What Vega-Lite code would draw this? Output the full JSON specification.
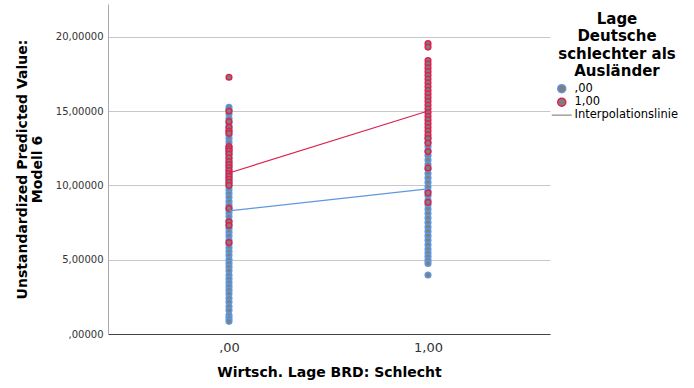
{
  "$schema": "https://vega.github.io/schema/vega-lite/v6.json",
  "autosize": {"type": "none"},
  "padding": {"left": 108, "top": 4, "right": 144, "bottom": 54},
  "width": 442,
  "height": 330,
  "background": "white",
  "config": {
    "view": {"stroke": null},
    "font": "DejaVu Sans",
    "axis": {"ticks": false, "labelColor": "#333333", "titleColor": "#000000"}
  },
  "datasets": {
    "pts": [
      {"x": 0, "grp": ",00", "y": 15.25}, {"x": 0, "grp": ",00", "y": 15.05}, {"x": 0, "grp": ",00", "y": 14.8}, {"x": 0, "grp": ",00", "y": 14.5},
      {"x": 0, "grp": ",00", "y": 14.2}, {"x": 0, "grp": ",00", "y": 13.95}, {"x": 0, "grp": ",00", "y": 13.7}, {"x": 0, "grp": ",00", "y": 13.4},
      {"x": 0, "grp": ",00", "y": 13.15}, {"x": 0, "grp": ",00", "y": 12.9}, {"x": 0, "grp": ",00", "y": 12.6}, {"x": 0, "grp": ",00", "y": 12.35},
      {"x": 0, "grp": ",00", "y": 12.1}, {"x": 0, "grp": ",00", "y": 11.8}, {"x": 0, "grp": ",00", "y": 11.55}, {"x": 0, "grp": ",00", "y": 11.3},
      {"x": 0, "grp": ",00", "y": 11.0}, {"x": 0, "grp": ",00", "y": 10.75}, {"x": 0, "grp": ",00", "y": 10.5}, {"x": 0, "grp": ",00", "y": 10.2},
      {"x": 0, "grp": ",00", "y": 9.95}, {"x": 0, "grp": ",00", "y": 9.7}, {"x": 0, "grp": ",00", "y": 9.45}, {"x": 0, "grp": ",00", "y": 9.2},
      {"x": 0, "grp": ",00", "y": 8.9}, {"x": 0, "grp": ",00", "y": 8.65}, {"x": 0, "grp": ",00", "y": 8.4}, {"x": 0, "grp": ",00", "y": 8.15},
      {"x": 0, "grp": ",00", "y": 7.9}, {"x": 0, "grp": ",00", "y": 7.6}, {"x": 0, "grp": ",00", "y": 7.35}, {"x": 0, "grp": ",00", "y": 7.1},
      {"x": 0, "grp": ",00", "y": 6.85}, {"x": 0, "grp": ",00", "y": 6.6}, {"x": 0, "grp": ",00", "y": 6.3}, {"x": 0, "grp": ",00", "y": 6.05},
      {"x": 0, "grp": ",00", "y": 5.8}, {"x": 0, "grp": ",00", "y": 5.55}, {"x": 0, "grp": ",00", "y": 5.3}, {"x": 0, "grp": ",00", "y": 5.0},
      {"x": 0, "grp": ",00", "y": 4.75}, {"x": 0, "grp": ",00", "y": 4.5}, {"x": 0, "grp": ",00", "y": 4.25}, {"x": 0, "grp": ",00", "y": 3.95},
      {"x": 0, "grp": ",00", "y": 3.7}, {"x": 0, "grp": ",00", "y": 3.45}, {"x": 0, "grp": ",00", "y": 3.2}, {"x": 0, "grp": ",00", "y": 2.95},
      {"x": 0, "grp": ",00", "y": 2.7}, {"x": 0, "grp": ",00", "y": 2.4}, {"x": 0, "grp": ",00", "y": 2.15}, {"x": 0, "grp": ",00", "y": 1.85},
      {"x": 0, "grp": ",00", "y": 1.6}, {"x": 0, "grp": ",00", "y": 1.25}, {"x": 0, "grp": ",00", "y": 1.05}, {"x": 0, "grp": ",00", "y": 0.85},
      {"x": 1, "grp": ",00", "y": 13.2}, {"x": 1, "grp": ",00", "y": 12.9}, {"x": 1, "grp": ",00", "y": 12.6}, {"x": 1, "grp": ",00", "y": 12.3},
      {"x": 1, "grp": ",00", "y": 12.0}, {"x": 1, "grp": ",00", "y": 11.7}, {"x": 1, "grp": ",00", "y": 11.4}, {"x": 1, "grp": ",00", "y": 11.1},
      {"x": 1, "grp": ",00", "y": 10.8}, {"x": 1, "grp": ",00", "y": 10.5}, {"x": 1, "grp": ",00", "y": 10.2}, {"x": 1, "grp": ",00", "y": 9.9},
      {"x": 1, "grp": ",00", "y": 9.6}, {"x": 1, "grp": ",00", "y": 9.3}, {"x": 1, "grp": ",00", "y": 9.0}, {"x": 1, "grp": ",00", "y": 8.7},
      {"x": 1, "grp": ",00", "y": 8.4}, {"x": 1, "grp": ",00", "y": 8.1}, {"x": 1, "grp": ",00", "y": 7.8}, {"x": 1, "grp": ",00", "y": 7.5},
      {"x": 1, "grp": ",00", "y": 7.2}, {"x": 1, "grp": ",00", "y": 6.9}, {"x": 1, "grp": ",00", "y": 6.6}, {"x": 1, "grp": ",00", "y": 6.3},
      {"x": 1, "grp": ",00", "y": 6.0}, {"x": 1, "grp": ",00", "y": 5.7}, {"x": 1, "grp": ",00", "y": 5.45}, {"x": 1, "grp": ",00", "y": 5.2},
      {"x": 1, "grp": ",00", "y": 4.95}, {"x": 1, "grp": ",00", "y": 4.75}, {"x": 1, "grp": ",00", "y": 3.97},
      {"x": 0, "grp": "1,00", "y": 17.27}, {"x": 0, "grp": "1,00", "y": 15.0}, {"x": 0, "grp": "1,00", "y": 14.29}, {"x": 0, "grp": "1,00", "y": 13.9},
      {"x": 0, "grp": "1,00", "y": 13.65}, {"x": 0, "grp": "1,00", "y": 13.5}, {"x": 0, "grp": "1,00", "y": 12.6}, {"x": 0, "grp": "1,00", "y": 12.45},
      {"x": 0, "grp": "1,00", "y": 12.3}, {"x": 0, "grp": "1,00", "y": 12.1}, {"x": 0, "grp": "1,00", "y": 11.85}, {"x": 0, "grp": "1,00", "y": 11.6},
      {"x": 0, "grp": "1,00", "y": 11.4}, {"x": 0, "grp": "1,00", "y": 11.2}, {"x": 0, "grp": "1,00", "y": 11.0}, {"x": 0, "grp": "1,00", "y": 10.8},
      {"x": 0, "grp": "1,00", "y": 10.6}, {"x": 0, "grp": "1,00", "y": 10.4}, {"x": 0, "grp": "1,00", "y": 10.2}, {"x": 0, "grp": "1,00", "y": 10.0},
      {"x": 0, "grp": "1,00", "y": 8.46}, {"x": 0, "grp": "1,00", "y": 7.55}, {"x": 0, "grp": "1,00", "y": 7.3}, {"x": 0, "grp": "1,00", "y": 6.15},
      {"x": 1, "grp": "1,00", "y": 19.53}, {"x": 1, "grp": "1,00", "y": 19.3}, {"x": 1, "grp": "1,00", "y": 18.4}, {"x": 1, "grp": "1,00", "y": 18.15},
      {"x": 1, "grp": "1,00", "y": 17.9}, {"x": 1, "grp": "1,00", "y": 17.65}, {"x": 1, "grp": "1,00", "y": 17.4}, {"x": 1, "grp": "1,00", "y": 17.15},
      {"x": 1, "grp": "1,00", "y": 16.9}, {"x": 1, "grp": "1,00", "y": 16.65}, {"x": 1, "grp": "1,00", "y": 16.4}, {"x": 1, "grp": "1,00", "y": 16.15},
      {"x": 1, "grp": "1,00", "y": 15.9}, {"x": 1, "grp": "1,00", "y": 15.65}, {"x": 1, "grp": "1,00", "y": 15.4}, {"x": 1, "grp": "1,00", "y": 15.15},
      {"x": 1, "grp": "1,00", "y": 14.9}, {"x": 1, "grp": "1,00", "y": 14.65}, {"x": 1, "grp": "1,00", "y": 14.4}, {"x": 1, "grp": "1,00", "y": 14.15},
      {"x": 1, "grp": "1,00", "y": 13.9}, {"x": 1, "grp": "1,00", "y": 13.65}, {"x": 1, "grp": "1,00", "y": 13.4}, {"x": 1, "grp": "1,00", "y": 13.15},
      {"x": 1, "grp": "1,00", "y": 12.85}, {"x": 1, "grp": "1,00", "y": 12.28}, {"x": 1, "grp": "1,00", "y": 11.17}, {"x": 1, "grp": "1,00", "y": 9.49},
      {"x": 1, "grp": "1,00", "y": 8.86}
    ],
    "lines": [
      {"x": 0, "grp": ",00", "y": 8.28}, {"x": 1, "grp": ",00", "y": 9.76},
      {"x": 0, "grp": "1,00", "y": 10.83}, {"x": 1, "grp": "1,00", "y": 15.0}
    ]
  },
  "layer": [
    {
      "data": {"name": "pts"},
      "mark": {"type": "point", "filled": true, "fill": "#7f7f7f", "strokeWidth": 1.5, "size": 32, "opacity": 1},
      "encoding": {
        "x": {
          "field": "x", "type": "quantitative",
          "scale": {"domain": [-0.608, 1.613], "nice": false, "zero": false},
          "axis": {
            "values": [0, 1],
            "labelExpr": "datum.value == 0 ? ',00' : '1,00'",
            "title": "Wirtsch. Lage BRD: Schlecht",
            "titleFontSize": 14, "titleFontWeight": "bold",
            "labelFontSize": 13, "labelPadding": 7, "titlePadding": 11,
            "grid": false, "domainColor": "#444444", "domainWidth": 1
          }
        },
        "y": {
          "field": "y", "type": "quantitative",
          "scale": {"domain": [0, 22.2], "nice": false},
          "axis": {
            "values": [0, 5, 10, 15, 20],
            "labelExpr": "datum.value == 0 ? ',00000' : replace(format(datum.value, '.5f'), '.', ',')",
            "title": ["Unstandardized Predicted Value:", "Modell 6"],
            "titleFontSize": 14, "titleFontWeight": "bold", "titleLineHeight": 15,
            "titlePadding": 11, "labelFontSize": 10, "labelPadding": 5,
            "grid": true, "gridColor": "#c8c8c8", "domainColor": "#aaaaaa"
          }
        },
        "stroke": {
          "field": "grp", "type": "nominal",
          "scale": {"domain": [",00", "1,00", "Interpolationslinie"], "range": ["#5e98e0", "#d9224f", "#a0a0a0"]},
          "legend": {
            "orient": "none", "legendX": 448, "legendY": 8,
            "title": ["Lage", "Deutsche", "schlechter als", "Ausländer"],
            "titleFontSize": 15, "titleFontWeight": "bold", "titleAnchor": "middle", "titleAlign": "center",
            "titleLineHeight": 17.3, "titleColor": "#000000", "titlePadding": 4,
            "labelFontSize": 11.5, "labelColor": "#000000", "labelOffset": 7, "symbolSize": 64, "symbolStrokeWidth": 1.5,
            "symbolFillColor": "#7f7f7f", "padding": 0, "rowPadding": -1.5
          }
        },
        "shape": {
          "field": "grp", "type": "nominal",
          "scale": {"domain": [",00", "1,00", "Interpolationslinie"], "range": ["circle", "circle", "M-2.5,0H2.5"]},
          "legend": {
            "title": ["Lage", "Deutsche", "schlechter als", "Ausländer"]
          }
        }
      }
    },
    {
      "data": {"name": "lines"},
      "mark": {"type": "line", "strokeWidth": 1.2},
      "encoding": {
        "x": {"field": "x", "type": "quantitative"},
        "y": {"field": "y", "type": "quantitative"},
        "stroke": {"field": "grp", "type": "nominal"}
      }
    }
  ]
}
